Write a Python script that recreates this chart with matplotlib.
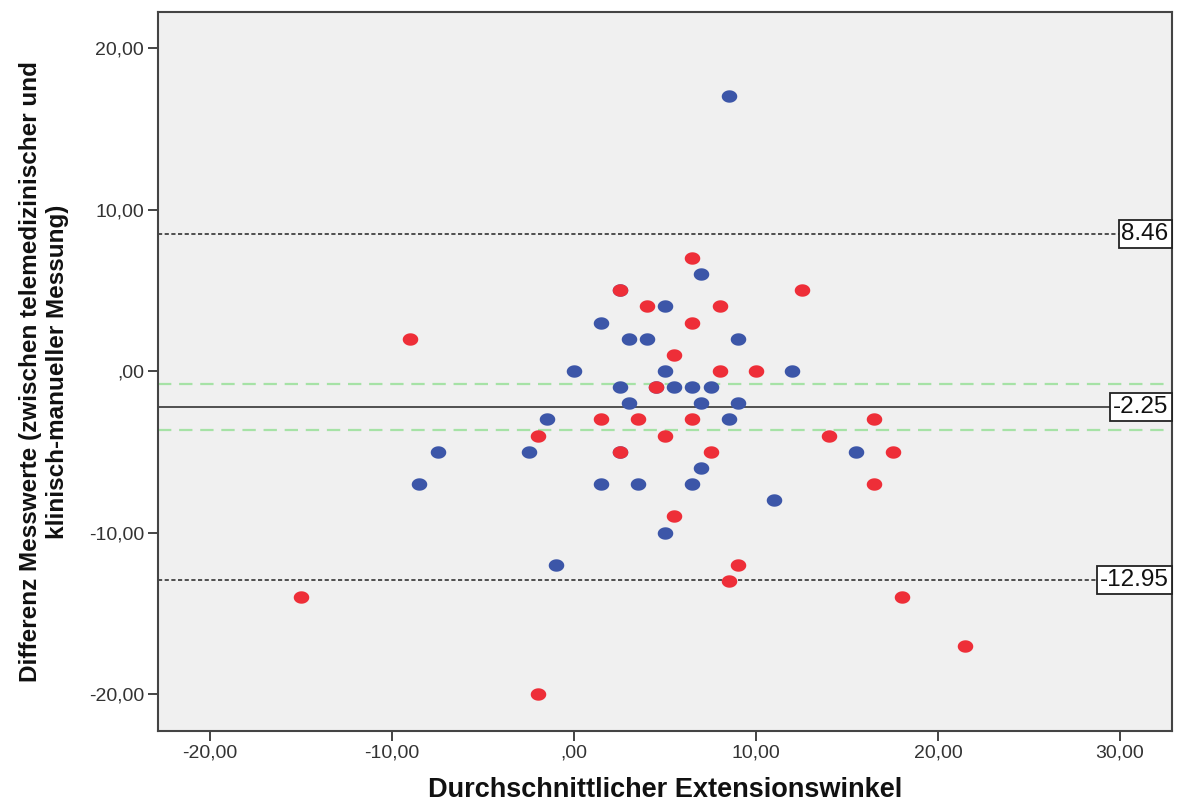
import numpy as np
import matplotlib
matplotlib.use("Agg")
import matplotlib.pyplot as plt
from matplotlib.path import Path
from matplotlib.ticker import FuncFormatter

plt.rcParams['font.family'] = ['Liberation Sans', 'DejaVu Sans']

# Bland-Altman points, group 1 (blue)
blue_x = [8.5, -8.5, -7.5, -1, -2.5, -1.5, 0, 1.5, 1.5, 3, 3, 2.5, 4, 5, 5, 5,
          3.5, 5.5, 6.5, 7, 7, 7.5, 7, 6.5, 9, 9, 8.5, 11, 12, 15.5, 2.5, 2.5, 4.5]
blue_y = [17, -7, -5, -12, -5, -3, 0, 3, -7, 2, -2, -1, 2, 4, 0, -10,
          -7, -1, -1, 6, -2, -1, -6, -7, 2, -2, -3, -8, 0, -5, 5, -5, -1]

# group 2 (red)
red_x = [-9, -15, -2, -2, 1.5, 2.5, 2.5, 4, 3.5, 4.5, 5, 5.5, 5.5, 6.5, 6.5,
         6.5, 8, 8, 10, 12.5, 7.5, 9, 8.5, 14, 16.5, 17.5, 16.5, 18, 21.5]
red_y = [2, -14, -20, -4, -3, 5, -5, 4, -3, -1, -4, 1, -9, 7, 3,
         -3, 4, 0, 0, 5, -5, -12, -13, -4, -3, -5, -7, -14, -17]

mean_diff = -2.25
upper_loa = 8.46
lower_loa = -12.95
ci_mean = [-0.83, -3.67]

x_ticks = [-20, -10, 0, 10, 20, 30]
y_ticks = [-20, -10, 0, 10, 20]


def spss_fmt(v, pos=None):
    s = "{:.2f}".format(v).replace(".", ",")
    if s.startswith("0,"):
        s = s[1:]
    if s.startswith("-0,"):
        s = "-" + s[2:]
    return s


# slightly flattened dots
t = np.linspace(0, 2 * np.pi, 60)
ellipse = Path(np.column_stack([np.cos(t), 0.8 * np.sin(t)]), closed=True)

fig = plt.figure(figsize=(11.77, 8.07), dpi=100)
ax = fig.add_axes([0.1342, 0.0942, 0.8616, 0.8909])
ax.set_facecolor('#f0f0f0')

ax.set_xlim(-22.86, 32.86)
ax.set_ylim(-22.29, 22.23)

ax.axhline(upper_loa, color='#333333', lw=1.2, ls=(0, (2.5, 1.5)), zorder=1)
ax.axhline(lower_loa, color='#333333', lw=1.2, ls=(0, (2.5, 1.5)), zorder=1)
for c in ci_mean:
    ax.axhline(c, color='#a6e2a6', lw=1.6, ls=(0, (6, 3.5)), zorder=1)
ax.axhline(mean_diff, color='#444444', lw=1.3, zorder=1)

ax.scatter(blue_x, blue_y, s=125, marker=ellipse, color='#3c56a8', lw=0, zorder=3)
ax.scatter(red_x, red_y, s=125, marker=ellipse, color='#ee2e38', lw=0, zorder=4)

for v in [upper_loa, mean_diff, lower_loa]:
    ax.annotate("{:.2f}".format(v), xy=(1, v), xycoords=('axes fraction', 'data'),
                xytext=(-2.5, 0), textcoords='offset points', ha='right', va='center',
                fontsize=17.5, color='#111111', zorder=6,
                bbox=dict(boxstyle='square,pad=0.12', fc='white', ec='#222222', lw=1.3))

ax.set_xticks(x_ticks)
ax.set_yticks(y_ticks)
ax.xaxis.set_major_formatter(FuncFormatter(spss_fmt))
ax.yaxis.set_major_formatter(FuncFormatter(spss_fmt))
ax.tick_params(direction='out', length=7, width=1.4, color='#444444',
               labelsize=14, labelcolor='#333333', pad=3)

for sp in ax.spines.values():
    sp.set_color('#444444')
    sp.set_linewidth(1.5)

ax.set_xlabel("Durchschnittlicher Extensionswinkel", fontsize=19.5,
              fontweight='bold', color='#111111')
ax.xaxis.set_label_coords(0.5, -0.064)
ax.set_ylabel("Differenz Messwerte (zwischen telemedizinischer und\nklinisch-manueller Messung)",
              fontsize=17.5, fontweight='bold', color='#111111', linespacing=1.2)
ax.yaxis.set_label_coords(-0.088, 0.5)

fig.savefig("out.png", dpi=100)
